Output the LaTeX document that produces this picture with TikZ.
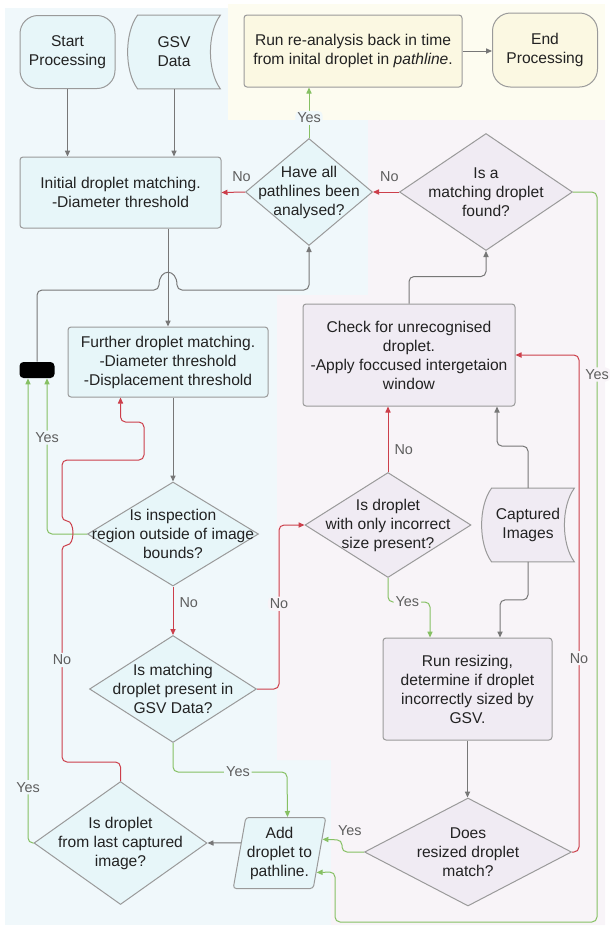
\documentclass[tikz,border=0pt]{standalone}
\usepackage{fontspec}
\setmainfont{Liberation Sans}
\usepackage{tikz}
\usetikzlibrary{calc,arrows.meta,shapes.geometric,backgrounds}
\definecolor{bgblue}{HTML}{F0F8FB}
\definecolor{bgyellow}{HTML}{FDFCF0}
\definecolor{bglav}{HTML}{F8F4F8}
\definecolor{fillblue}{HTML}{E7F6F9}
\definecolor{fillyellow}{HTML}{FBF8E2}
\definecolor{filllav}{HTML}{F0EBF3}
\definecolor{nodeborder}{HTML}{9A9A9A}
\definecolor{textdark}{HTML}{222222}
\definecolor{labelgrey}{HTML}{5E5E5E}
\definecolor{linegrey}{HTML}{777777}
\definecolor{linegreen}{HTML}{86C063}
\definecolor{linered}{HTML}{CC3F4B}
\newcommand{\px}{0.5pt}
\newcommand{\storedshape}[2]{%
\filldraw[fill=#2, draw=nodeborder, line width=\px]
 ($(#1.north west)+(10,0)$) -- (#1.north east)
 .. controls ($(#1.north east)+(-13.3,18)$) and ($(#1.south east)+(-13.3,-18)$) .. (#1.south east)
 -- ($(#1.south west)+(10,0)$)
 .. controls ($(#1.south west)+(-3.3,-18)$) and ($(#1.north west)+(-3.3,18)$) .. cycle;}
\tikzset{
 box/.style={draw=nodeborder, line width=\px, align=center, text=textdark, inner sep=0pt},
 process/.style={box, rectangle, rounded corners=1.5pt},
 terminal/.style={box, rectangle, rounded corners=9pt},
 store/.style={align=center, text=textdark, inner sep=0pt},
 decision/.style={box, diamond},
 qtext/.style={align=center, text=textdark, inner sep=0pt},
 slanted/.style={box, trapezium, trapezium left angle=77, trapezium right angle=103, trapezium stretches=true, rounded corners=1.5pt},
 flow/.style={draw=linegrey, line width=\px, rounded corners=2.5pt, -{Triangle[length=3pt,width=2.6pt]}},
 yes/.style={flow, draw=linegreen},
 no/.style={flow, draw=linered},
 lbl/.style={font=\fontsize{7.2pt}{8pt}\selectfont, text=labelgrey, inner sep=1pt, fill=bgblue},
}
\begin{document}
\begin{tikzpicture}[x=\px, y=-\px, font=\fontsize{7.8pt}{9.5pt}\selectfont]
\useasboundingbox (0,0) rectangle (610,927);
% regions
\begin{scope}[on background layer]
\fill[bgblue] (5,8) rectangle (605,925);
\fill[bgyellow] (228,4) rectangle (605,120);
\fill[bglav] (368,120) -- (605,120) -- (605,925) -- (331,925) -- (331,760) -- (277,760) -- (277,295) -- (368,295) -- cycle;
\end{scope}
% nodes
\node[terminal, fill=fillblue, minimum width=95*\px, minimum height=73*\px] (start) at (67.5,52) {Start\\Processing};
\node[store, minimum width=92*\px, minimum height=73*\px] (gsv) at (174,52) {GSV\\Data};
\node[process, fill=fillyellow, minimum width=218*\px, minimum height=72*\px] (rerun) at (353,51) {Run re-analysis back in time\\from inital droplet in \textit{pathline}.};
\node[terminal, fill=fillyellow, minimum width=105*\px, minimum height=74*\px] (stop) at (545,50) {End\\Processing};
\node[process, fill=fillblue, minimum width=201*\px, minimum height=71*\px] (initial) at (120.5,192.5) {Initial droplet matching.\\-Diameter threshold};
\node[decision, fill=fillblue, minimum width=127*\px, minimum height=107*\px, label={[qtext]center:{Have all\\pathlines been\\analysed?}}] (qall) at (309,192) {};
\node[decision, fill=filllav, minimum width=173*\px, minimum height=117*\px, label={[qtext]center:{Is a\\matching droplet\\found?}}] (qfound) at (486,192) {};
\node[process, fill=fillblue, minimum width=200*\px, minimum height=70*\px] (further) at (168,362) {Further droplet matching.\\-Diameter threshold\\-Displacement threshold};
\node[fill=black, rounded corners=2pt, minimum width=35*\px, minimum height=16*\px, inner sep=0pt] (bar) at (37,370) {};
\node[process, fill=filllav, minimum width=212*\px, minimum height=102*\px] (check) at (409,355) {Check for unrecognised\\droplet.\\-Apply foccused intergetaion\\window};
\node[decision, fill=fillblue, minimum width=171*\px, minimum height=104*\px, label={[qtext]center:{Is inspection\\region outside of image\\bounds?}}] (qbounds) at (173,534) {};
\node[decision, fill=filllav, minimum width=166*\px, minimum height=105*\px, label={[qtext]center:{Is droplet\\with only incorrect\\size present?}}] (qsize) at (388,525) {};
\node[store, minimum width=92*\px, minimum height=73*\px] (images) at (528,525) {Captured\\Images};
\node[decision, fill=fillblue, minimum width=167*\px, minimum height=107*\px, label={[qtext]center:{Is matching\\droplet present in\\GSV Data?}}] (qgsv) at (173,689) {};
\node[process, fill=filllav, minimum width=169*\px, minimum height=102*\px] (resize) at (467.5,689) {Run resizing,\\determine if droplet\\incorrectly sized by\\GSV.};
\node[decision, fill=filllav, minimum width=207*\px, minimum height=108*\px, label={[qtext]center:{Does\\resized droplet\\match?}}] (qresized) at (468,852) {};
\node[slanted, fill=fillblue, minimum width=93*\px, minimum height=71*\px] (add) at (279.5,853) {Add\\droplet to\\pathline.};
\node[decision, fill=fillblue, minimum width=173*\px, minimum height=123*\px, label={[qtext]center:{Is droplet\\from last captured\\image?}}] (qlast) at (120.5,843) {};
\begin{scope}[on background layer]
\storedshape{gsv}{fillblue}
\storedshape{images}{filllav}
\end{scope}
% connectors
\draw[flow] (start.south) -- (start.south |- initial.north);
\draw[flow] (gsv.south) -- (gsv.south |- initial.north);
\draw[flow] (rerun.east) -- (rerun.east -| stop.west);
\draw[yes] (qall.north) -- node[lbl, pos=0.4]{Yes} (qall.north |- rerun.south);
\draw[no] (qall.west) -- node[lbl, fill=none, above=4pt, pos=0.15]{No} (initial.east);
\draw[no] (qfound.west) -- node[lbl, fill=none, above=4pt, pos=0.37]{No} (qall.east);
\draw[yes] (qfound.east) -- (597,192) -- node[lbl, fill=bglav, pos=0.25]{Yes} (597,922) -- (335,922) -- (335,872) -- ($(add.top right corner)!0.77!(add.bottom right corner)$);
\draw[flow] (further.north |- initial.south) -- (further.north);
\draw[flow] (bar.north) -- (37,290) -- (159,290) .. controls (159,268) and (177,268) .. (177,290) -- (309,290) -- (qall.south);
\draw[flow] (check.north) -- ++(0,-27) -| (qfound.south);
\draw[flow] (qbounds.north |- further.south) -- (qbounds.north);
\draw[yes] (qbounds.west) -| node[lbl, pos=0.81]{Yes} ($(bar.south)+(10,0)$);
\draw[no] (qbounds.south) -- node[lbl, fill=none, right=2pt, pos=0.34]{No} (qgsv.north);
\draw[no] (qgsv.east) -- (279,689) -- node[lbl, fill=bglav, pos=0.52]{No} (279,525) -- (qsize.west);
\draw[no] (qsize.north) -- node[lbl, fill=none, right=2pt, pos=0.34]{No} (qsize.north |- check.south);
\draw[yes] (qsize.south) |- node[lbl, fill=bglav, pos=0.73]{Yes} (430,602) -- ($(resize.north)+(-37.5,0)$);
\draw[flow] (images.north) -- ++(0,-42) -| ($(check.south)+(88,0)$);
\draw[flow] (images.south) -- ++(0,38) -| ($(resize.north)+(32.5,0)$);
\draw[flow] (resize.south) -- (resize.south |- qresized.north);
\draw[yes] (qresized.west) -- node[lbl, fill=none, above=7pt, pos=0.64]{Yes} (342,852) -- (342,840) -- ($(add.top right corner)!0.31!(add.bottom right corner)$);
\draw[yes] (qgsv.south) -- (173,772) -- node[lbl, pos=0.57]{Yes} (287,772) -- ($(add.north)+(8,0)$);
\draw[flow] ($(add.top left corner)!0.36!(add.bottom left corner)$) -- (qlast.east);
\draw[yes] (qlast.west) -| node[lbl, pos=0.56]{Yes} ($(bar.south)+(-9,0)$);
\draw[no] (qlast.north) -- (120.5,762) -- (62,762) -- node[lbl, pos=0.47]{No} (62,545) .. controls (75,545) and (75,521) .. (62,521) -- (62,460) -- (144,460) -- (144,422) -- (120.5,422) -- ($(further.south)+(-47.5,0)$);
\draw[no] (qresized.east) -- (579,852) -- node[lbl, fill=bglav, pos=0.39]{No} (579,355) -- (check.east);
\end{tikzpicture}
\end{document}
